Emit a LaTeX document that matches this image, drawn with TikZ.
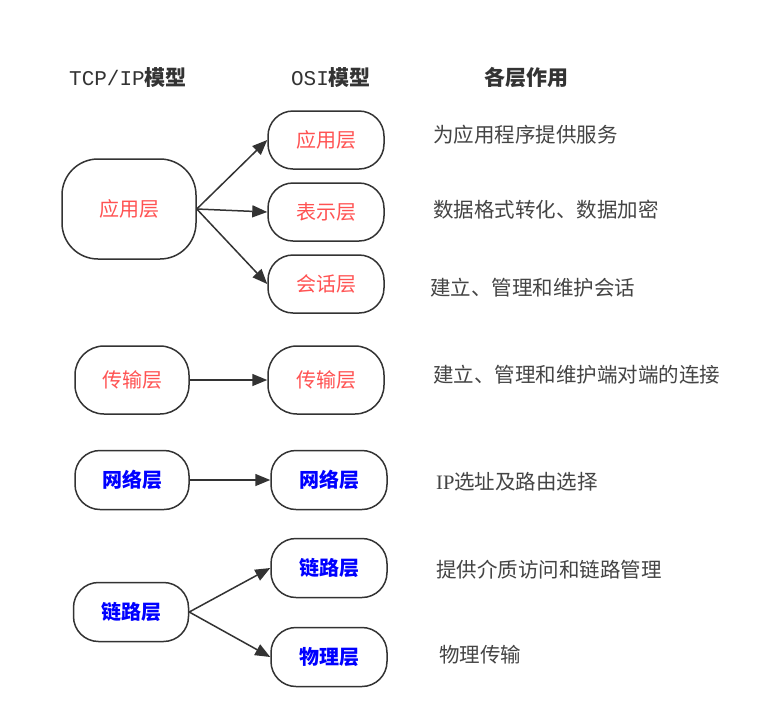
\documentclass[tikz,border=0pt]{standalone}
\usepackage{fontspec}
\setmainfont{Noto Sans CJK SC}
\setmonofont{Liberation Mono}
\newfontfamily\serifL{Liberation Serif}
\usetikzlibrary{arrows.meta}
\definecolor{lineC}{HTML}{333333}
\definecolor{redT}{HTML}{FF5252}
\definecolor{blueT}{HTML}{0000FF}
\definecolor{descT}{HTML}{444444}
\tikzset{
  box/.style={draw=lineC, line width=1.5pt, rounded corners=25pt, fill=white,
    minimum width=116pt, minimum height=58pt, inner sep=0pt,
    font=\fontsize{20}{24}\selectfont},
  redbox/.style={box, text=redT},
  bluebox/.style={box, text=blueT, font=\fontsize{20}{24}\selectfont\bfseries},
  conn/.style={draw=lineC, line width=1.5pt, -{Triangle[length=15pt,width=12pt]}},
  desc/.style={anchor=west, inner sep=0pt, text=descT, font=\fontsize{20.5}{24}\selectfont},
  head/.style={inner sep=0pt, text=lineC, font=\fontsize{21}{25}\selectfont\bfseries}
}
\begin{document}
\begin{tikzpicture}[x=1pt,y=-1pt]
\useasboundingbox[fill=white] (0,0) rectangle (764,724);
% headings
\node[head] (h1) at (128,78) {{\ttfamily\mdseries TCP/IP}模型};
\node[head] (h2) at (331,78) {{\ttfamily\mdseries OSI}模型};
\node[head] (h3) at (526,78) {各层作用};
% TCP/IP column
\node[redbox, minimum width=134pt, minimum height=100pt, rounded corners=36pt] (tA) at (129,209) {应用层};
\node[redbox, minimum width=114pt, minimum height=68pt, rounded corners=29pt] (tT) at (132,380) {传输层};
\node[bluebox, minimum width=114pt, minimum height=59pt] (tN) at (132,480) {网络层};
\node[bluebox, minimum width=115pt, minimum height=59pt] (tL) at (131,612) {链路层};
% OSI column
\node[redbox] (oA) at (326,140) {应用层};
\node[redbox] (oP) at (326,212) {表示层};
\node[redbox] (oS) at (326,284) {会话层};
\node[redbox, minimum height=68pt, rounded corners=29pt] (oT) at (326,380) {传输层};
\node[bluebox, minimum height=59pt] (oN) at (329,480) {网络层};
\node[bluebox, minimum height=59pt] (oL) at (329,568) {链路层};
\node[bluebox, minimum height=59pt] (oPh) at (329,657) {物理层};
% connectors
\draw[conn] (tA.east) -- (oA.west);
\draw[conn] (tA.east) -- (oP.west);
\draw[conn] (tA.east) -- (oS.west);
\draw[conn] (tT.east) -- (oT.west);
\draw[conn] (tN.east) -- (oN.west);
\draw[conn] (tL.east) -- (oL.west);
\draw[conn] (tL.east) -- (oPh.west);
% descriptions
\node[desc] (d1) at (433,135) {为应用程序提供服务};
\node[desc] (d2) at (433,210) {数据格式转化、数据加密};
\node[desc] (d3) at (430,288) {建立、管理和维护会话};
\node[desc] (d4) at (433,375) {建立、管理和维护端对端的连接};
\node[desc] (d5) at (436,482) {{\serifL IP}选址及路由选择};
\node[desc] (d6) at (436,570) {提供介质访问和链路管理};
\node[desc] (d7) at (439,655) {物理传输};
\end{tikzpicture}
\end{document}
